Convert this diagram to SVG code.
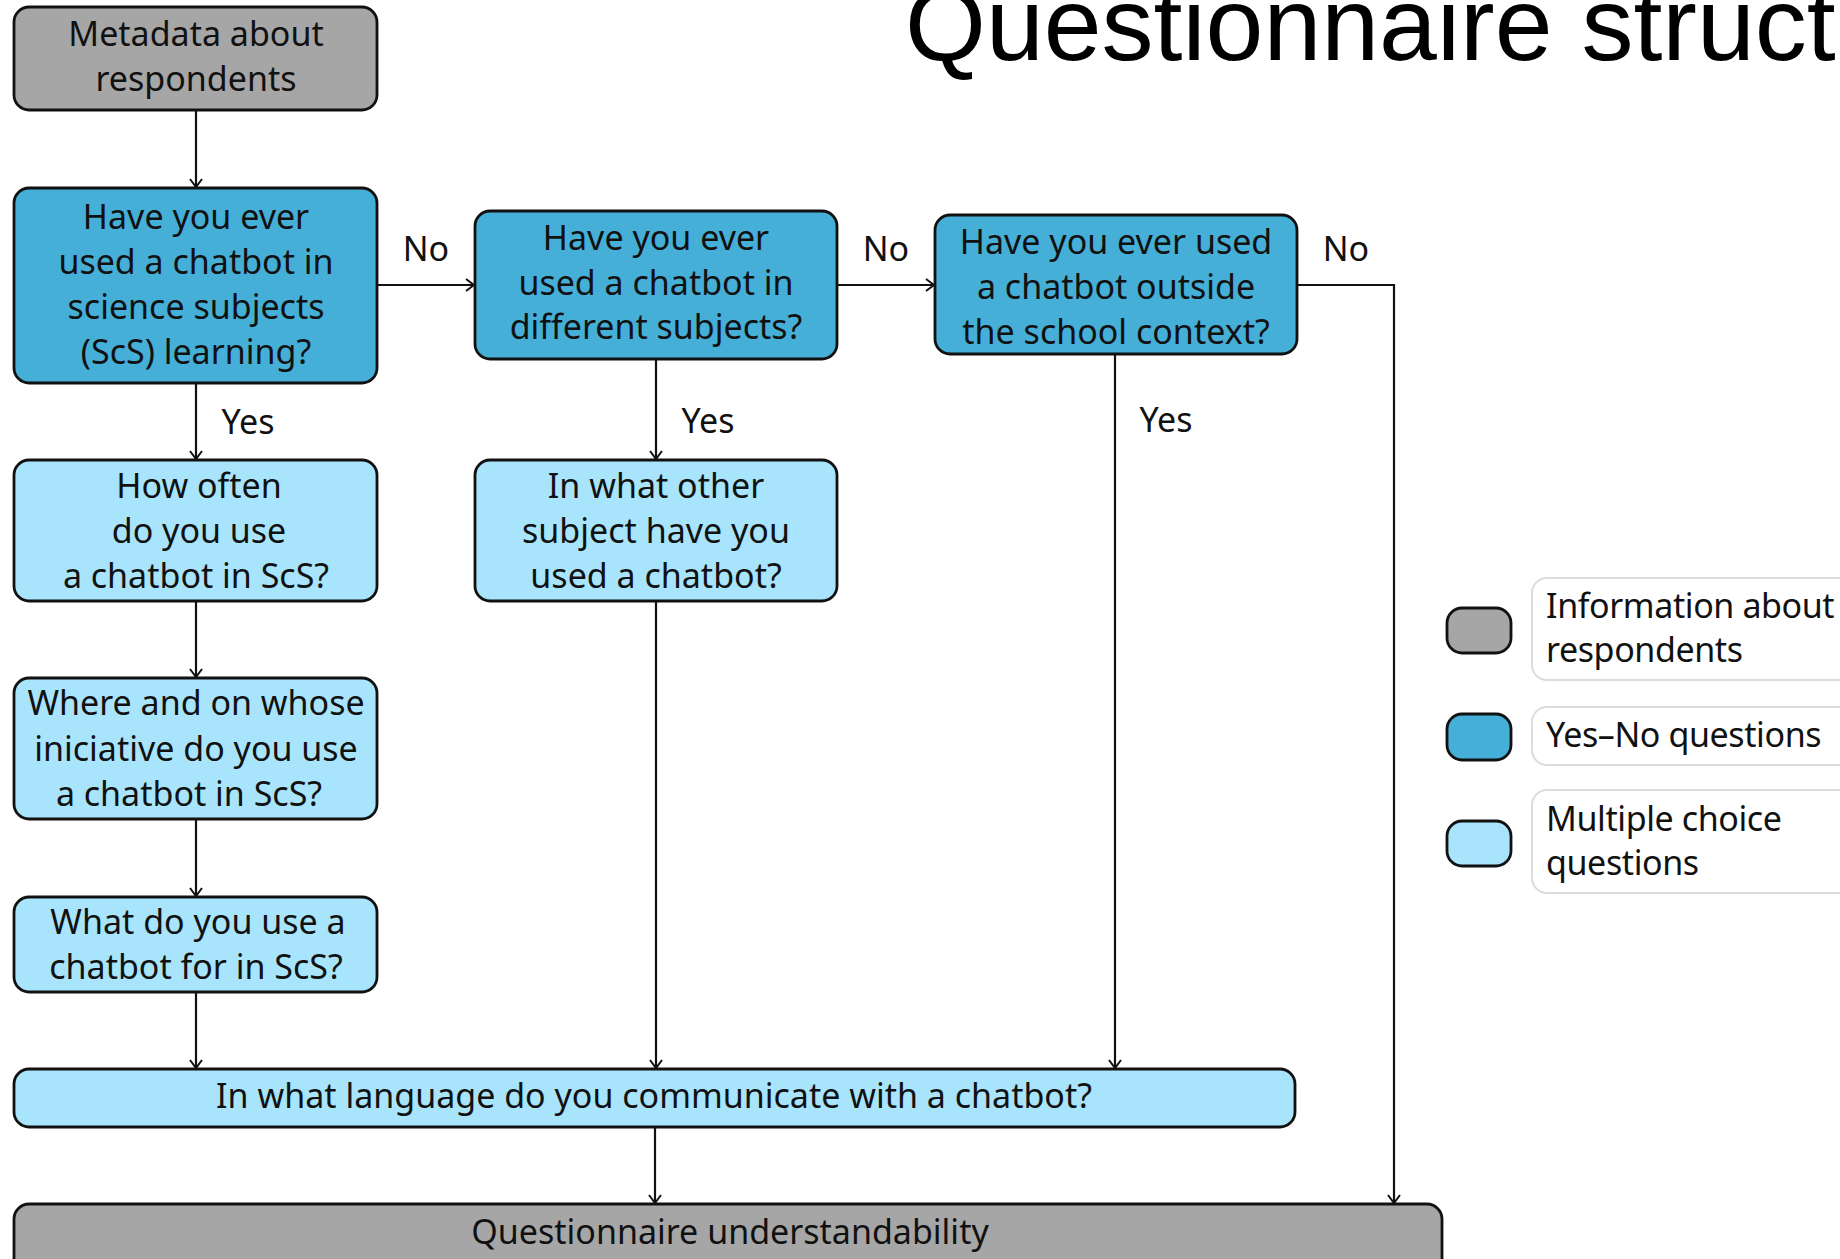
<svg xmlns="http://www.w3.org/2000/svg" width="1840" height="1259" viewBox="0 0 1840 1259">
<style>
.box{stroke:#111;stroke-width:2.8}
.gray{fill:#a6a6a6}
.dark{fill:#45afd7}
.light{fill:#a8e5fc}
.t{font-family:"Noto Sans","Open Sans","DejaVu Sans",sans-serif;font-size:34px;fill:#111;text-anchor:middle}
.lt{font-family:"Noto Sans","Open Sans","DejaVu Sans",sans-serif;font-size:34px;fill:#111;letter-spacing:-0.4px}
.c{fill:none;stroke:#111;stroke-width:2.2}
.lg{fill:#fff;stroke:#dcdcdc;stroke-width:2}
.title{font-family:"Liberation Sans",Arial,sans-serif;font-size:104px;fill:#000}
</style>
<defs>
<marker id="arr" markerUnits="userSpaceOnUse" markerWidth="20" markerHeight="20" viewBox="-10 -10 20 20" refX="0" refY="0" orient="auto">
<path d="M-8,-6 L0,0 L-8,6" fill="none" stroke="#111" stroke-width="2"/>
</marker>
</defs>
<rect width="1840" height="1259" fill="#fff"/>
<text class="title" x="905" y="60">Questionnaire struct</text>
<g id="connectors">
<path class="c" d="M196,110 V187" marker-end="url(#arr)"/>
<path class="c" d="M196,383 V459" marker-end="url(#arr)"/>
<path class="c" d="M196,601 V677" marker-end="url(#arr)"/>
<path class="c" d="M196,819 V896" marker-end="url(#arr)"/>
<path class="c" d="M196,992 V1068" marker-end="url(#arr)"/>
<path class="c" d="M377,285 H474" marker-end="url(#arr)"/>
<path class="c" d="M837,285 H934" marker-end="url(#arr)"/>
<path class="c" d="M656,359 V459" marker-end="url(#arr)"/>
<path class="c" d="M656,601 V1068" marker-end="url(#arr)"/>
<path class="c" d="M1115,354 V1068" marker-end="url(#arr)"/>
<path class="c" d="M1297,285 H1394 V1203" marker-end="url(#arr)"/>
<path class="c" d="M655,1127 V1203" marker-end="url(#arr)"/>
<text class="t" x="426" y="261">No</text>
<text class="t" x="886" y="261">No</text>
<text class="t" x="1346" y="261">No</text>
<text class="t" x="248" y="434">Yes</text>
<text class="t" x="708" y="433">Yes</text>
<text class="t" x="1166" y="432">Yes</text>
</g>
<g id="n-metadata">
<rect class="box gray" x="14" y="7" width="363" height="103" rx="15"/>
<text class="t" x="196" y="46">Metadata about</text>
<text class="t" x="196" y="91">respondents</text>
</g>
<g id="n-scs">
<rect class="box dark" x="14" y="188" width="363" height="195" rx="15"/>
<text class="t" x="196" y="229">Have you ever</text>
<text class="t" x="196" y="274">used a chatbot in</text>
<text class="t" x="196" y="319">science subjects</text>
<text class="t" x="196" y="364">(ScS) learning?</text>
</g>
<g id="n-different">
<rect class="box dark" x="475" y="211" width="362" height="148" rx="15"/>
<text class="t" x="656" y="250">Have you ever</text>
<text class="t" x="656" y="295">used a chatbot in</text>
<text class="t" x="656" y="339">different subjects?</text>
</g>
<g id="n-outside">
<rect class="box dark" x="935" y="215" width="362" height="139" rx="15"/>
<text class="t" x="1116" y="254">Have you ever used</text>
<text class="t" x="1116" y="299">a chatbot outside</text>
<text class="t" x="1116" y="344">the school context?</text>
</g>
<g id="n-howoften">
<rect class="box light" x="14" y="460" width="363" height="141" rx="15"/>
<text class="t" x="199" y="498">How often</text>
<text class="t" x="199" y="543">do you use</text>
<text class="t" x="196" y="588">a chatbot in ScS?</text>
</g>
<g id="n-other">
<rect class="box light" x="475" y="460" width="362" height="141" rx="15"/>
<text class="t" x="656" y="498">In what other</text>
<text class="t" x="656" y="543">subject have you</text>
<text class="t" x="656" y="588">used a chatbot?</text>
</g>
<g id="n-where">
<rect class="box light" x="14" y="678" width="363" height="141" rx="15"/>
<text class="t" x="196" y="715">Where and on whose</text>
<text class="t" x="196" y="761">iniciative do you use</text>
<text class="t" x="189" y="806">a chatbot in ScS?</text>
</g>
<g id="n-what">
<rect class="box light" x="14" y="897" width="363" height="95" rx="15"/>
<text class="t" x="198" y="934">What do you use a</text>
<text class="t" x="196" y="979">chatbot for in ScS?</text>
</g>
<g id="n-language">
<rect class="box light" x="14" y="1069" width="1281" height="58" rx="15"/>
<text class="t" x="654" y="1108">In what language do you communicate with a chatbot?</text>
</g>
<g id="n-understand">
<rect class="box gray" x="14" y="1204" width="1428" height="80" rx="15"/>
<text class="t" x="730" y="1244">Questionnaire understandability</text>
</g>
<g id="legend">
<rect class="lg" x="1532" y="578" width="340" height="102" rx="15"/>
<rect class="lg" x="1532" y="707" width="340" height="58" rx="15"/>
<rect class="lg" x="1532" y="790" width="340" height="103" rx="15"/>
<rect class="box gray" x="1447" y="608" width="64" height="45" rx="15"/>
<rect class="box dark" x="1447" y="714" width="64" height="46" rx="15"/>
<rect class="box light" x="1447" y="821" width="64" height="45" rx="15"/>
<text class="lt" x="1546" y="618">Information about</text>
<text class="lt" x="1546" y="662">respondents</text>
<text class="lt" x="1546" y="747">Yes–No questions</text>
<text class="lt" x="1546" y="831">Multiple choice</text>
<text class="lt" x="1546" y="875">questions</text>
</g>
</svg>
